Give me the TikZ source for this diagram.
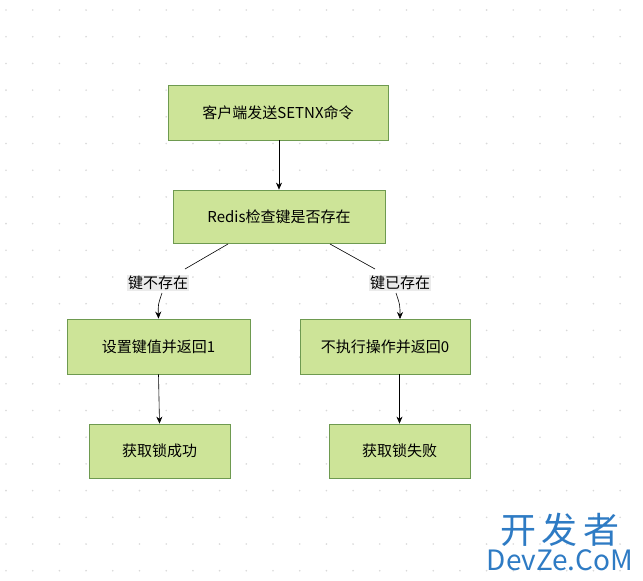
\documentclass[tikz,border=0pt]{standalone}
\usepackage{fontspec}
\setmainfont{Noto Sans CJK SC}
\usetikzlibrary{arrows.meta}
\definecolor{nf}{HTML}{CDE498}
\definecolor{nd}{HTML}{6E9A50}
\definecolor{wm}{HTML}{2E7BC4}
\begin{document}
\begin{tikzpicture}[x=1pt,y=-1pt,
  box/.style={draw=nd,fill=nf,line width=0.8pt,inner sep=0pt,font=\fontsize{15}{17}\selectfont},
  arr/.style={-{Stealth[length=7pt,width=6pt]},line width=0.6pt},
  lab/.style={fill=black!8,inner sep=1pt,font=\fontsize{15}{17}\selectfont}]
\useasboundingbox (0,0) rectangle (643,581);
\fill[white] (0,0) rectangle (643,581);
\foreach \i in {0,...,24}{\foreach \j in {0,...,21}{\fill[black!15] (6+\i*26.7,10+\j*26.7) circle (0.9);}}
\node[box,minimum width=220,minimum height=55] (a) at (278,112.5) {客户端发送SETNX命令};
\node[box,minimum width=212,minimum height=53] (b) at (279,216.5) {Redis检查键是否存在};
\node[box,minimum width=183,minimum height=55] (c) at (158.5,346.5) {设置键值并返回1};
\node[box,minimum width=170,minimum height=55] (d) at (385,346.5) {不执行操作并返回0};
\node[box,minimum width=141,minimum height=54] (e) at (159.5,451) {获取锁成功};
\node[box,minimum width=141,minimum height=54] (f) at (399.5,451) {获取锁失败};
\node[lab] (l1) at (158,283) {键不存在};
\node[lab] (l2) at (400,283) {键已存在};
\coordinate (b1) at (228,244);
\coordinate (b2) at (330,244);
\coordinate (l1s) at (162,293);
\coordinate (l2s) at (396,293);
\coordinate (dn) at (400,319);
\coordinate (ds) at (399.5,374);
\draw[arr] (a.south -| 279,0) -- (b.north -| 279,0);
\draw[line width=0.6pt] (b1) -- (185,269);
\draw[arr] (l1s) .. controls (158,305) .. (c.north);
\draw[line width=0.6pt] (b2) -- (375,269);
\draw[arr] (l2s) .. controls (400,305) .. (dn);
\draw[arr] (c.south) -- (e.north);
\draw[arr] (ds) -- (f.north);
\node[wm,font=\fontsize{36}{38}\selectfont] (w1) at (560,530) {开\,发\,者};
\node[wm,font=\fontsize{28}{30}\selectfont] (w2) at (560,560) {DevZe.CoM};
\end{tikzpicture}
\end{document}
